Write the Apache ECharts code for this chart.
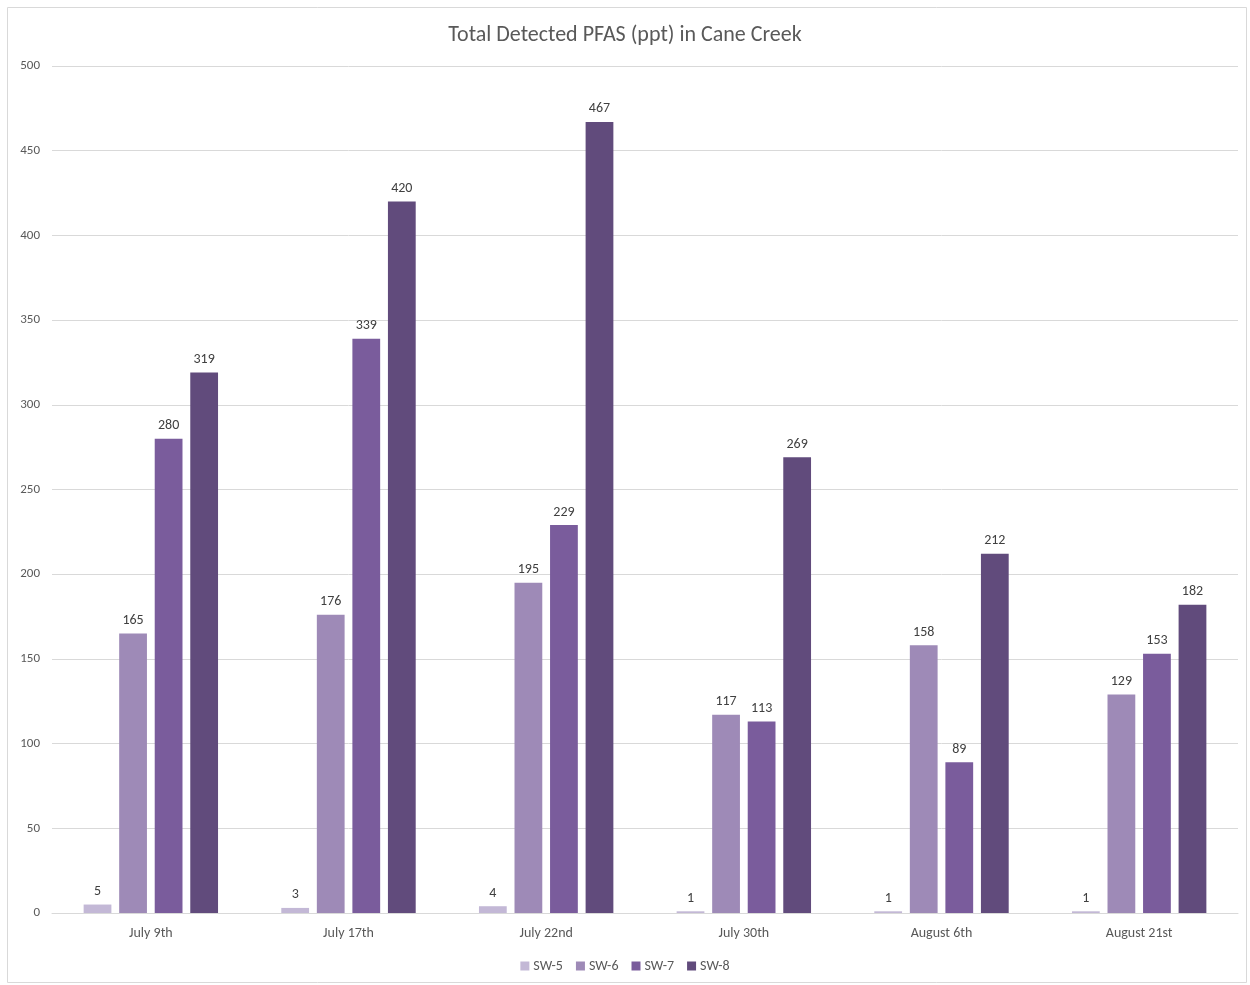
<!DOCTYPE html>
<html><head><meta charset="utf-8">
<script src="https://cdn.jsdelivr.net/npm/echarts@6/dist/echarts.min.js"></script>
<style>html,body{margin:0;padding:0;background:#fff}#c{width:1250px;height:985px}</style>
</head><body><div id="c"></div>
<script>
var categories = ['July 9th','July 17th','July 22nd','July 30th','August 6th','August 21st'];
var seriesNames = ['SW-5','SW-6','SW-7','SW-8'];
var sw5 = [5,3,4,1,1,1];
var sw6 = [165,176,195,117,158,129];
var sw7 = [280,339,229,113,89,153];
var sw8 = [319,420,467,269,212,182];
var yTicks = [0,50,100,150,200,250,300,350,400,450,500];
var colors = ['#c3b8d6','#9e8ab7','#7a5c9c','#614b7c'];
var allData = [sw5,sw6,sw7,sw8];
var font = 'Calibri, Carlito, "Open Sans", "Noto Sans", sans-serif';
var chart = echarts.init(document.getElementById('c'));
chart.setOption({
  animation:false,
  color:colors,
  graphic:[{type:'rect',shape:{x:7.5,y:7.5,width:1239,height:975},style:{fill:'none',stroke:'#d9d9d9',lineWidth:1}}],
  title:{text:'Total Detected PFAS (ppt) in Cane Creek',left:'center',top:19,textStyle:{fontFamily:font,fontSize:22,fontWeight:'normal',color:'#595959'}},
  legend:{data:seriesNames,bottom:7,left:'center',itemWidth:9,itemHeight:9,itemGap:13,icon:'rect',textStyle:{fontFamily:font,fontSize:14,color:'#595959',padding:[0,0,0,-1]}},
  grid:{left:52,right:12,top:66,bottom:72,containLabel:false},
  xAxis:{type:'category',data:categories,axisTick:{show:false},axisLine:{lineStyle:{color:'#d9d9d9'}},axisLabel:{fontFamily:font,fontSize:14,color:'#595959',margin:13}},
  yAxis:{type:'value',min:yTicks[0],max:yTicks[yTicks.length-1],interval:50,axisLine:{show:false},axisTick:{show:false},splitLine:{lineStyle:{color:'#d9d9d9'}},axisLabel:{fontFamily:font,fontSize:13,color:'#595959',margin:12}},
  series:seriesNames.map(function(n,i){return {name:n,type:'bar',data:allData[i],barGap:'28%',barCategoryGap:'32%',label:{show:true,position:'top',distance:6,fontFamily:font,fontSize:14,color:'#404040'}};})
});
</script></body></html>
